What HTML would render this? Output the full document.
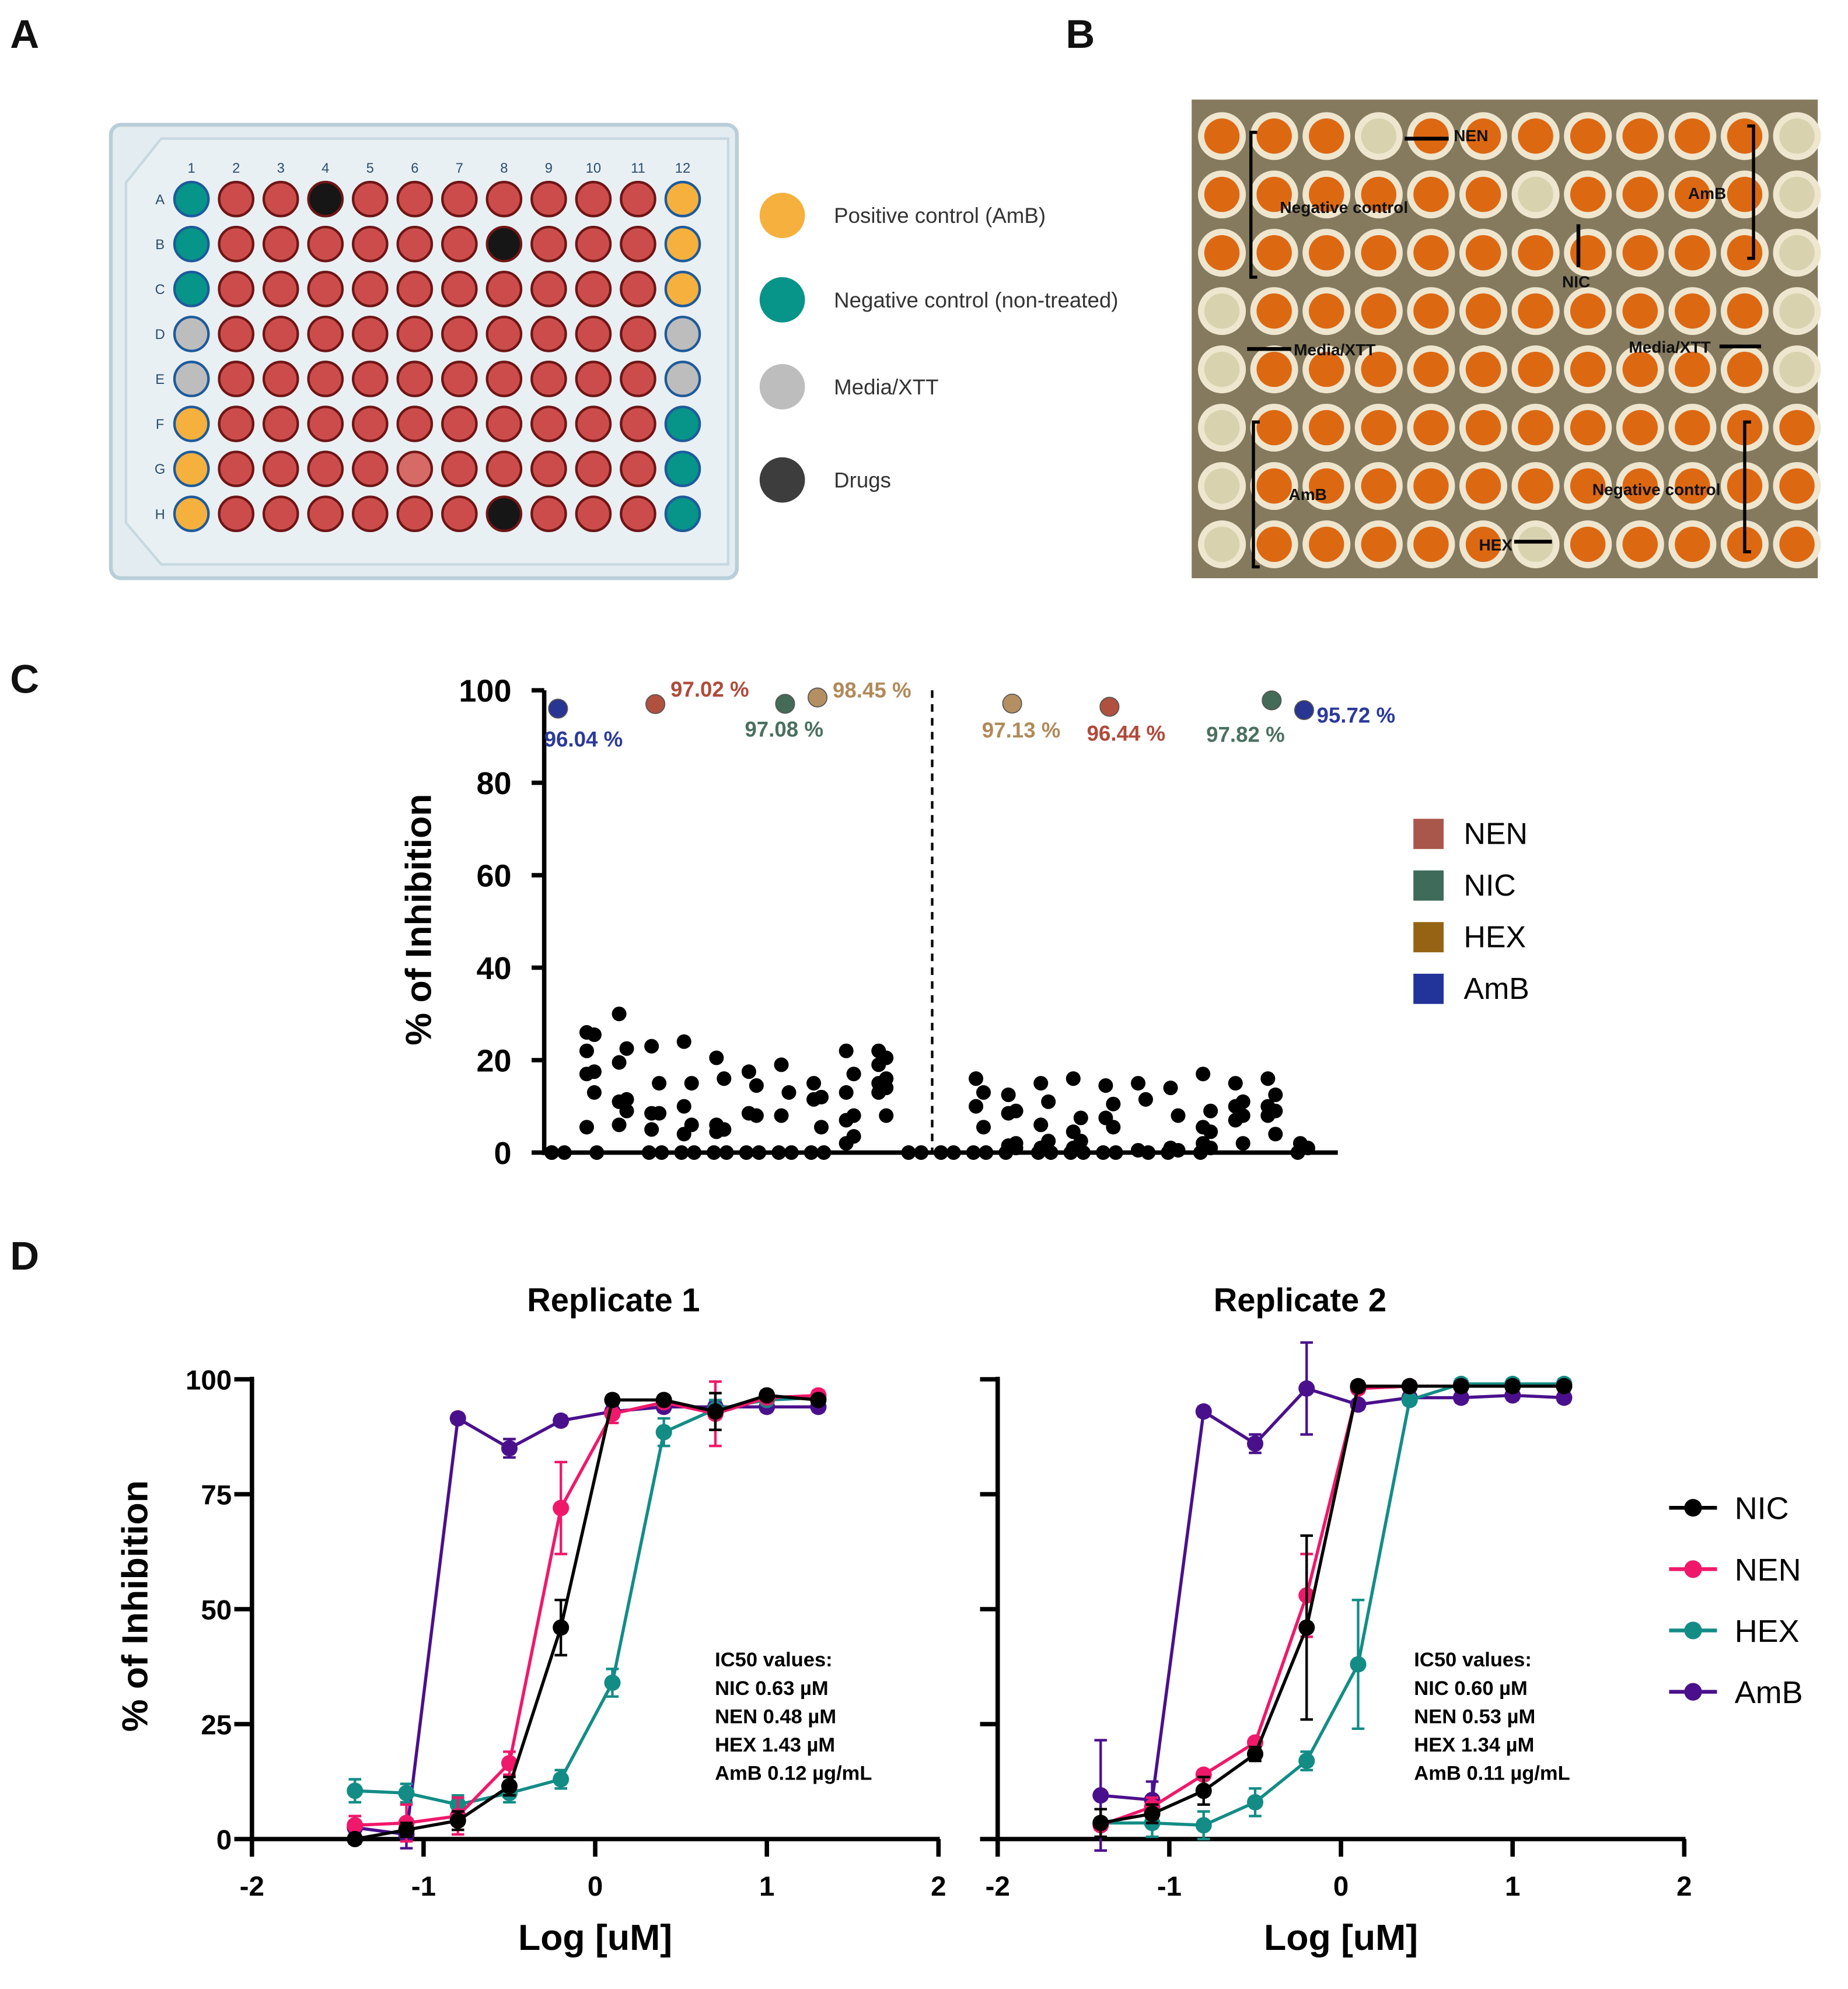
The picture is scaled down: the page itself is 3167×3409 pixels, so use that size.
<!DOCTYPE html>
<html><head><meta charset="utf-8"><style>
html,body{margin:0;padding:0;background:#fff}
svg{display:block;font-family:"Liberation Sans",Arial,sans-serif}
</style></head><body>
<svg id="fig" width="3167" height="3409" viewBox="0 0 1467 1579" xmlns="http://www.w3.org/2000/svg">
<rect width="1467" height="1579" fill="#fff"/>
<g font-weight="bold" font-size="32" fill="#111">
<text x="8" y="38">A</text>
<text x="846" y="38">B</text>
<text x="8" y="550">C</text>
<text x="8" y="1008">D</text>
</g>
<g id="plateA">
<rect x="88" y="99" width="497" height="360" rx="8" fill="#e3ecf0" stroke="#b9ced8" stroke-width="3"/>
<path d="M128 110 L578 110 L578 448 L128 448 L100 415 L100 145 Z" fill="#e9f0f3" stroke="#c7d8e0" stroke-width="2"/>
</g>
<g id="legendA" font-size="17" fill="#333"></g>
<g id="photoB"></g>
<g id="chartC"></g>
<g id="chartD"></g>
</svg>
<script>
const NS="http://www.w3.org/2000/svg";
function mk(tag,attrs,parent,text){const e=document.createElementNS(NS,tag);for(const k in attrs)e.setAttribute(k,attrs[k]);if(text!==undefined)e.textContent=text;parent.appendChild(e);return e;}

// ---------- Panel A ----------
const plate=document.getElementById('plateA');
const rows=['A','B','C','D','E','F','G','H'];
for(let c=0;c<12;c++){const t=mk('text',{x:152+c*35.45,y:137,'font-size':11,fill:'#2a4d6e','text-anchor':'middle'},plate,String(c+1));
}
for(let r=0;r<8;r++){const t=mk('text',{x:127,y:162+r*35.7,'font-size':11,fill:'#2a4d6e','text-anchor':'middle'},plate,rows[r]);

for(let c=0;c<12;c++){
 let fill='#cc4c4c',stroke='#6e1515';
 if(c===0){fill=r<3?'#079489':(r<5?'#bdbdbd':'#f5b03d');stroke='#1d5a9c';}
 if(c===11){fill=r<3?'#f5b03d':(r<5?'#bdbdbd':'#079489');stroke='#1d5a9c';}
 if((r===0&&c===3)||(r===1&&c===7)||(r===7&&c===7)){fill='#161616';stroke='#6e1515';}
 if(r===6&&c===5)fill='#d66a66';
 const w=mk('circle',{cx:152+c*35.45,cy:158+r*35.7,r:13.5,fill:fill,stroke:stroke,'stroke-width':2},plate);
 
}}
const legA=document.getElementById('legendA');
const legAItems=[['Positive control (AmB)','#f5b03d',171],['Negative control (non-treated)','#079489',238],['Media/XTT','#bdbdbd',307],['Drugs','#3d3d3d',381]];
legAItems.forEach(it=>{const c=mk('circle',{cx:621,cy:it[2],r:18,fill:it[1]},legA);
const t=mk('text',{x:662,y:it[2]+6},legA,it[0]);});

// ---------- Panel B (photo approximation) ----------
const pb=document.getElementById('photoB');
mk('rect',{x:946,y:79,width:497,height:380,fill:'#857a5e'},pb);
for(let r=0;r<8;r++)for(let c=0;c<12;c++){
 const cx=970+c*41.5,cy=108+r*46.3;
 let pale=(c===0&&r>=3)||(c===11&&r<=4)||(c===3&&r===0)||(c===6&&r===1)||(c===6&&r===7);
 mk('circle',{cx:cx,cy:cy,r:19,fill:'#efe6cf'},pb);
 const w=mk('circle',{cx:cx,cy:cy,r:14,fill:pale?'#d8d2ae':'#dd6812'},pb);
 
}
const bLabels=[['NEN',1154,112],['Negative control',1016,169],['AmB',1340,158],['NIC',1240,228],['Media/XTT',1027,282],['Media/XTT',1293,280],['AmB',1023,397],['Negative control',1264,393],['HEX',1174,437]];
bLabels.forEach(l=>{const t=mk('text',{x:l[1],y:l[2],'font-size':13,'font-weight':'bold',fill:'#111'},pb,l[0]);});
[['M1115 110 L1150 110'],['M1253 212 L1253 178'],['M990 277 L1025 277'],['M1365 275 L1398 275'],['M1202 430 L1232 430']].forEach(p=>mk('path',{d:p[0],stroke:'#000','stroke-width':3},pb));
[['M998 105 L993 105 L993 220 L998 220'],['M1387 100 L1392 100 L1392 205 L1387 205'],['M1000 335 L995 335 L995 450 L1000 450'],['M1390 335 L1385 335 L1385 438 L1390 438']].forEach(p=>mk('path',{d:p[0],stroke:'#000','stroke-width':2.5,fill:'none'},pb));

// ---------- Panel C ----------
const catX0=443, catStep=25.75;
const colValues=[
 [0,0,0],
 [26,25.5,22,17.5,17,13,5.5,0],
 [30,22.5,19.5,11.5,11,9,6],
 [23,15,8.5,8.5,5,0,0],
 [24,15,10,6,4,0,0],
 [20.5,16,6,5,4.5,0,0],
 [17.5,14.5,8.5,8,0,0],
 [19,13,8,0,0],
 [15,12,11.5,5.5,0,0],
 [22,17,13,8,7,3.5,2],
 [22,20.5,19,16,15,14,13,8],
 [0,0],
 [0,0],
 [16,13,10,5.5,0,0],
 [12.5,9,8.5,2,1.5,1,0],
 [15,11,6,2.5,1,0,0],
 [16,7.5,4.5,2.5,1,0,0],
 [14.5,10.5,7.5,5.5,0,0],
 [15,11.5,0.5,0],
 [14,8,1,0.5,0],
 [17,9,5.5,4.5,2,1,0],
 [15,11,10,8,7,2],
 [16,12.5,10,9,8,4],
 [2,1,0]
];
const ctrlCats=[0,3,7,8,14,17,22,23];
const ctrlValues=[96.04,97.02,97.08,98.45,97.13,96.44,97.82,95.72];
const ctrlDrug=['AmB','NEN','NIC','HEX','HEX','NEN','NIC','AmB'];
const ctrlLabels=['96.04 %','97.02 %','97.08 %','98.45 %','97.13 %','96.44 %','97.82 %','95.72 %'];
const cTicks=[0,20,40,60,80,100];
const cLegend=['NEN','NIC','HEX','AmB'];
const cLegendColors=['#a9574a','#3e6b5a','#946414','#223399'];
const ctrlDot={AmB:'#283593',NEN:'#b0503f',NIC:'#446b58',HEX:'#b48f62'};
const ctrlText={AmB:'#2b3a9a',NEN:'#b04a3a',NIC:'#4a7060',HEX:'#b08a5a'};
const cY=v=>915-v*3.67, cX=i=>catX0+i*catStep;
const gc=document.getElementById('chartC');
mk('path',{d:'M432 548 L432 917 M430 915 L1062 915',stroke:'#000','stroke-width':3.5,fill:'none'},gc);
cTicks.forEach(t=>{mk('path',{d:`M422 ${cY(t)} L432 ${cY(t)}`,stroke:'#000','stroke-width':3.5},gc);
const tl=mk('text',{x:406,y:cY(t)+9,'font-size':25,'font-weight':'bold','text-anchor':'end'},gc,t);
});
const yt=mk('text',{transform:'translate(342,730) rotate(-90)','font-size':29,'font-weight':'bold','text-anchor':'middle'},gc,'% of Inhibition');

const dl=mk('path',{d:'M740 548 L740 915',stroke:'#000','stroke-width':2,'stroke-dasharray':'6,5'},gc);

colValues.forEach((vals,i)=>{vals.forEach((v,j)=>{const off=(v===0)?((j%2)?5:-5):((j%2)?3:-3);
const p=mk('circle',{cx:cX(i)+off,cy:cY(v),r:5.8,fill:'#000'},gc);
});});
const lblOff=[[-11,30],[12,-6],[-32,26],[12,0],[-24,27],[-18,27],[-52,33],[10,10]];
ctrlCats.forEach((ci,k)=>{const d=ctrlDrug[k];
const p=mk('circle',{cx:cX(ci),cy:cY(ctrlValues[k]),r:7.5,fill:ctrlDot[d],stroke:'#555','stroke-width':0.8},gc);

const t=mk('text',{x:cX(ci)+lblOff[k][0],y:cY(ctrlValues[k])+lblOff[k][1],'font-size':17,'font-weight':'bold',fill:ctrlText[d]},gc,ctrlLabels[k]);
});
cLegend.forEach((n,k)=>{const y=650+k*41;
const r=mk('rect',{x:1122,y:y,width:24,height:24,fill:cLegendColors[k]},gc);
const t=mk('text',{x:1162,y:y+20,'font-size':24},gc,n);});

// ---------- Panel D ----------
const doses=[-1.4,-1.1,-0.8,-0.5,-0.2,0.1,0.4,0.7,1.0,1.3];
const seriesNames=['NIC','NEN','HEX','AmB'];
const seriesColors=['#000000','#f0186a','#138c86','#4a108c'];
const rep1NIC=[0,2,4,11.5,46,95.5,95.5,93,96.5,95.5];
const rep1NICerr=[1,1.5,2,2,6,1,1,4,1,1];
const rep1NEN=[3,3.5,5,16.5,72,92.5,95,92.5,96,96.5];
const rep1NENerr=[2,4,4,2.5,10,2,1,7,1,1];
const rep1HEX=[10.5,10,7.5,10,13,34,88.5,93.5,95.5,96];
const rep1HEXerr=[2.5,2,2,2,2,3,3,2,1,1];
const rep1AmB=[2.5,1,91.5,85,91,93,94,94,94,94];
const rep1AmBerr=[1,3,1,2,1,1,1,1,1,1];
const rep2NIC=[3.5,5.5,10.5,18.5,46,98.5,98.5,98.5,98.5,98.5];
const rep2NICerr=[3,2,3,1.5,20,1,1,1,1,1];
const rep2NEN=[3,7,14,21,53,98,98.5,98.5,98.5,98.5];
const rep2NENerr=[1,2,1,1,9,1,1,1,1,1];
const rep2HEX=[3.5,3.5,3,8,17,38,95.5,99,99,99];
const rep2HEXerr=[1,3,3,3,2,14,1,1,1,1];
const rep2AmB=[9.5,8.5,93,86,98,94.5,96,96,96.5,96];
const rep2AmBerr=[12,4,1,2,10,1,1,1,1,1];
const dXTicks=[-2,-1,0,1,2];
const dYTicks=[0,25,50,75,100];
const ic50Rep1=['IC50 values:','NIC 0.63 µM','NEN 0.48 µM','HEX 1.43 µM','AmB 0.12 µg/mL'];
const ic50Rep2=['IC50 values:','NIC 0.60 µM','NEN 0.53 µM','HEX 1.34 µM','AmB 0.11 µg/mL'];
const gd=document.getElementById('chartD');
function panel(x0,title,titleX,icOff,series,errs,ic,showYLabels){
 const X=v=>x0+(v+2)*(545/4), Y=v=>1460-v*3.65;
 const g=mk('g',{},gd);
 
 mk('path',{d:`M${X(-2)} 1093 L${X(-2)} 1462 M${X(-2)-2} 1460 L${X(2)+1} 1460`,stroke:'#000','stroke-width':3.5,fill:'none'},g);
 dYTicks.forEach(t=>{mk('path',{d:`M${X(-2)-14} ${Y(t)} L${X(-2)} ${Y(t)}`,stroke:'#000','stroke-width':3.5},g);
  if(showYLabels){const tl=mk('text',{x:X(-2)-16,y:Y(t)+8,'font-size':22,'font-weight':'bold','text-anchor':'end'},g,t);}});
 dXTicks.forEach(t=>{mk('path',{d:`M${X(t)} 1460 L${X(t)} 1474`,stroke:'#000','stroke-width':3.5},g);
  const tl=mk('text',{x:X(t),y:1505,'font-size':22,'font-weight':'bold','text-anchor':'middle'},g,t);});
 const tt=mk('text',{x:titleX,y:1041,'font-size':26,'font-weight':'bold','text-anchor':'middle'},g,title);
 const xt=mk('text',{x:X(0),y:1548,'font-size':29,'font-weight':'bold','text-anchor':'middle'},g,'Log [uM]');
 [3,2,1,0].forEach(s=>{const vals=series[s],er=errs[s],col=seriesColors[s];
  const line=mk('polyline',{points:vals.map((v,i)=>X(doses[i])+','+Y(v)).join(' '),fill:'none',stroke:col,'stroke-width':2.5},g);
  
  vals.forEach((v,i)=>{const x=X(doses[i]);
   const eb=mk('path',{d:`M${x} ${Y(v-er[i])} L${x} ${Y(v+er[i])} M${x-5} ${Y(v-er[i])} L${x+5} ${Y(v-er[i])} M${x-5} ${Y(v+er[i])} L${x+5} ${Y(v+er[i])}`,stroke:col,'stroke-width':2},g);
   
   const p=mk('circle',{cx:x,cy:Y(v),r:6.5,fill:col},g);
   });});
 ic.forEach((s,k)=>{const t=mk('text',{x:X(0)+icOff,y:1323+k*22.5,'font-size':16,'font-weight':'bold'},g,s);});
}
panel(200,'Replicate 1',487,95,[rep1NIC,rep1NEN,rep1HEX,rep1AmB],[rep1NICerr,rep1NENerr,rep1HEXerr,rep1AmBerr],ic50Rep1,true);
panel(792,'Replicate 2',1032,58,[rep2NIC,rep2NEN,rep2HEX,rep2AmB],[rep2NICerr,rep2NENerr,rep2HEXerr,rep2AmBerr],ic50Rep2,false);
const dyt=mk('text',{transform:'translate(117,1275) rotate(-90)','font-size':29,'font-weight':'bold','text-anchor':'middle'},gd,'% of Inhibition');

seriesNames.forEach((n,k)=>{const y=1197+k*48.7;
 const ln=mk('path',{d:`M1325 ${y} L1363 ${y}`,stroke:seriesColors[k],'stroke-width':3},gd);
 const c=mk('circle',{cx:1344,cy:y,r:7,fill:seriesColors[k]},gd);
 
 const t=mk('text',{x:1377,y:y+9,'font-size':25},gd,n);
 });
</script>
</body></html>
